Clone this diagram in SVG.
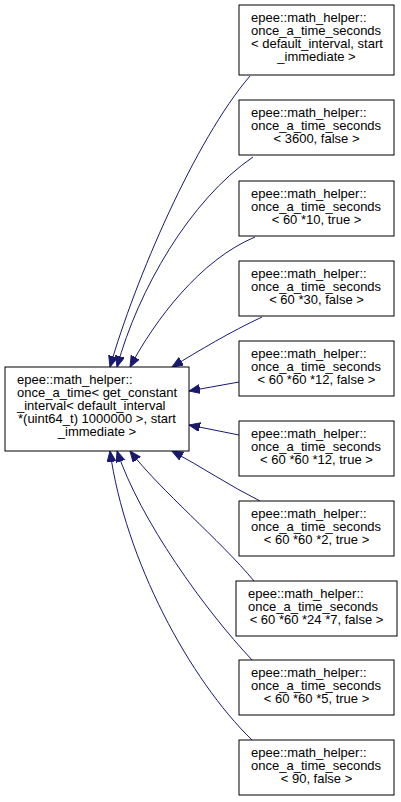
<svg xmlns="http://www.w3.org/2000/svg" width="401" height="802" viewBox="0 0 401 802">
<defs>
<style>
.box{fill:#ffffff;stroke:#000000;stroke-width:1}
.t{font-family:"Liberation Sans",Arial,Helvetica,sans-serif;font-size:13px;fill:#000000}
.c{text-anchor:middle}
.e{fill:none;stroke:#191970;stroke-width:1;marker-end:url(#ah)}
</style>
<marker id="ah" markerUnits="userSpaceOnUse" markerWidth="12" markerHeight="10" refX="11" refY="4.5" orient="auto">
<path d="M0,0 L11,4.5 L0,9 z" fill="#191970" stroke="#191970" stroke-width="1"/>
</marker>
</defs>
<rect width="401" height="802" fill="#ffffff"/>
<g id="edges">
<path class="e" d="M250,76 C195,140 135,280 110,367"/>
<path class="e" d="M253,157 C190,200 138,290 117,367"/>
<path class="e" d="M255,237 C200,260 155,320 130,367"/>
<path class="e" d="M262,317 C230,332 200,350 172,367"/>
<path class="e" d="M239,382 L189,391"/>
<path class="e" d="M239,435 L189,425"/>
<path class="e" d="M260,501 C230,486 200,466 172,451"/>
<path class="e" d="M254,581 C220,540 160,490 130,451"/>
<path class="e" d="M252,660 C205,610 140,520 117,451"/>
<path class="e" d="M252,740 C190,680 125,560 110,451"/>
</g>
<g id="main">
<rect class="box" x="5" y="367" width="184" height="84"/>
<text class="t" x="17" y="384">epee::math_helper::</text>
<text class="t" x="17" y="397">once_a_time&lt; get_constant</text>
<text class="t" x="17" y="410">_interval&lt; default_interval</text>
<text class="t" x="18" y="423"> *(uint64_t) 1000000 &gt;, start</text>
<text class="t c" x="97" y="436">_immediate &gt;</text>
</g>
<g id="n1">
<rect class="box" x="239" y="5" width="155" height="70"/>
<text class="t" x="251" y="22">epee::math_helper::</text>
<text class="t" x="251" y="35">once_a_time_seconds</text>
<text class="t" x="251" y="48">&lt; default_interval, start</text>
<text class="t c" x="316.5" y="61">_immediate &gt;</text>
</g>
<g id="n2">
<rect class="box" x="239" y="100" width="155" height="55"/>
<text class="t" x="251" y="116.5">epee::math_helper::</text>
<text class="t" x="251" y="129.5">once_a_time_seconds</text>
<text class="t c" x="316.5" y="142.5">&lt; 3600, false &gt;</text>
</g>
<g id="n3">
<rect class="box" x="239" y="181" width="155" height="55"/>
<text class="t" x="251" y="197.5">epee::math_helper::</text>
<text class="t" x="251" y="210.5">once_a_time_seconds</text>
<text class="t c" x="316.5" y="223.5">&lt; 60 *10, true &gt;</text>
</g>
<g id="n4">
<rect class="box" x="239" y="261" width="155" height="55"/>
<text class="t" x="251" y="277.5">epee::math_helper::</text>
<text class="t" x="251" y="290.5">once_a_time_seconds</text>
<text class="t c" x="316.5" y="303.5">&lt; 60 *30, false &gt;</text>
</g>
<g id="n5">
<rect class="box" x="239" y="341" width="155" height="55"/>
<text class="t" x="251" y="357.5">epee::math_helper::</text>
<text class="t" x="251" y="370.5">once_a_time_seconds</text>
<text class="t c" x="316.5" y="383.5">&lt; 60 *60 *12, false &gt;</text>
</g>
<g id="n6">
<rect class="box" x="239" y="421" width="155" height="55"/>
<text class="t" x="251" y="437.5">epee::math_helper::</text>
<text class="t" x="251" y="450.5">once_a_time_seconds</text>
<text class="t c" x="316.5" y="463.5">&lt; 60 *60 *12, true &gt;</text>
</g>
<g id="n7">
<rect class="box" x="239" y="501" width="155" height="55"/>
<text class="t" x="251" y="517.5">epee::math_helper::</text>
<text class="t" x="251" y="530.5">once_a_time_seconds</text>
<text class="t c" x="316.5" y="543.5">&lt; 60 *60 *2, true &gt;</text>
</g>
<g id="n8">
<rect class="box" x="236" y="581" width="161" height="55"/>
<text class="t" x="248" y="597.5">epee::math_helper::</text>
<text class="t" x="248" y="610.5">once_a_time_seconds</text>
<text class="t c" x="316.5" y="623.5">&lt; 60 *60 *24 *7, false &gt;</text>
</g>
<g id="n9">
<rect class="box" x="239" y="660" width="155" height="55"/>
<text class="t" x="251" y="676.5">epee::math_helper::</text>
<text class="t" x="251" y="689.5">once_a_time_seconds</text>
<text class="t c" x="316.5" y="702.5">&lt; 60 *60 *5, true &gt;</text>
</g>
<g id="n10">
<rect class="box" x="239" y="740" width="155" height="55"/>
<text class="t" x="251" y="756.5">epee::math_helper::</text>
<text class="t" x="251" y="769.5">once_a_time_seconds</text>
<text class="t c" x="316.5" y="782.5">&lt; 90, false &gt;</text>
</g>
</svg>
